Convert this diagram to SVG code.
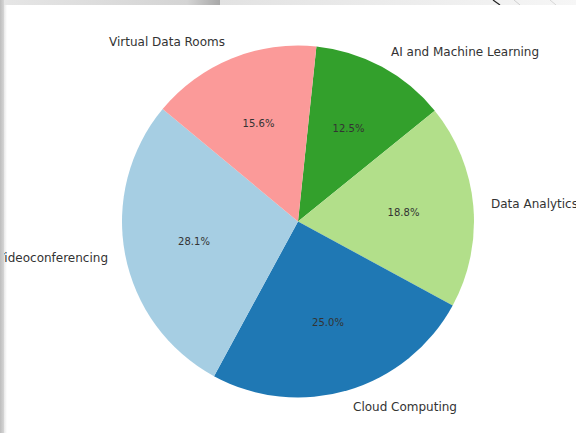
<svg xmlns="http://www.w3.org/2000/svg" width="576" height="433" viewBox="0 0 576 433">
  <defs>
    <linearGradient id="topStripA" x1="0" y1="0" x2="1" y2="0">
      <stop offset="0" stop-color="#e6e6e6"/>
      <stop offset="0.85" stop-color="#d4d4d4"/>
      <stop offset="1" stop-color="#a8a8a8"/>
    </linearGradient>
    <linearGradient id="topStripB" x1="0" y1="0" x2="1" y2="0">
      <stop offset="0" stop-color="#e2e2e2"/>
      <stop offset="1" stop-color="#f6f6f6"/>
    </linearGradient>
    <linearGradient id="leftStrip" x1="0" y1="0" x2="1" y2="0">
      <stop offset="0" stop-color="#bdbdbd"/>
      <stop offset="1" stop-color="#d6d6d6"/>
    </linearGradient>
    <linearGradient id="cardShade" x1="0" y1="0" x2="1" y2="0">
      <stop offset="0" stop-color="#e8e8e8"/>
      <stop offset="1" stop-color="#ffffff"/>
    </linearGradient>
    <style>
      .label { font-family: "DejaVu Sans", "Liberation Sans", sans-serif; font-size: 12px; fill: #333333; }
      .pct { font-family: "DejaVu Sans", "Liberation Sans", sans-serif; font-size: 10px; fill: #333333; text-anchor: middle; }
      .wedge { stroke: none; }
    </style>
  </defs>

  <!-- backdrop around the card -->
  <rect x="0" y="0" width="576" height="433" fill="#f2f2f2"/>
  <rect x="0" y="0" width="220" height="5" fill="url(#topStripA)"/>
  <rect x="220" y="0" width="356" height="5" fill="url(#topStripB)"/>
  <line x1="493" y1="0" x2="500" y2="5" stroke="#222222" stroke-width="1.2"/>
  <line x1="514" y1="0" x2="520" y2="5" stroke="#cfcfcf" stroke-width="1"/>
  <line x1="550" y1="0" x2="556" y2="5" stroke="#d6d6d6" stroke-width="1"/>
  <rect x="0" y="0" width="4" height="433" fill="url(#leftStrip)"/>

  <!-- card -->
  <rect x="4" y="5" width="572" height="428" fill="#ffffff"/>
  <rect x="4" y="5" width="3" height="428" fill="url(#cardShade)"/>

  <!-- pie wedges, centre (298,221.5), r = 176 -->
  <g id="ai-machine-learning">
    <path class="wedge" fill="#33a02c" d="M298,221.5 L316.40,46.46 A176,176 0 0 1 434.78,110.74 Z"/>
  </g>
  <g id="data-analytics">
    <path class="wedge" fill="#b2df8a" d="M298,221.5 L434.78,110.74 A176,176 0 0 1 452.67,305.48 Z"/>
  </g>
  <g id="cloud-computing">
    <path class="wedge" fill="#1f78b4" d="M298,221.5 L452.67,305.48 A176,176 0 0 1 214.02,376.17 Z"/>
  </g>
  <g id="videoconferencing">
    <path class="wedge" fill="#a6cee3" d="M298,221.5 L214.02,376.17 A176,176 0 0 1 162.65,109.00 Z"/>
  </g>
  <g id="virtual-data-rooms">
    <path class="wedge" fill="#fb9a99" d="M298,221.5 L162.65,109.00 A176,176 0 0 1 316.40,46.46 Z"/>
  </g>

  <!-- category labels -->
  <g id="labels">
    <text class="label" x="225" y="46" text-anchor="end">Virtual Data Rooms</text>
    <text class="label" x="391" y="55.5">AI and Machine Learning</text>
    <text class="label" x="491" y="208">Data Analytics</text>
    <text class="label" x="353" y="411">Cloud Computing</text>
    <text class="label" x="108" y="262" text-anchor="end">Videoconferencing</text>
  </g>

  <!-- percentages -->
  <g id="percentages">
    <text class="pct" x="258.5" y="127.3">15.6%</text>
    <text class="pct" x="348.5" y="132.3">12.5%</text>
    <text class="pct" x="403.5" y="215.6">18.8%</text>
    <text class="pct" x="328" y="326.3">25.0%</text>
    <text class="pct" x="194" y="245">28.1%</text>
  </g>

  <!-- strip drawn last so the clipped label sits under it -->
  <rect x="0" y="0" width="4" height="433" fill="url(#leftStrip)"/>
</svg>
